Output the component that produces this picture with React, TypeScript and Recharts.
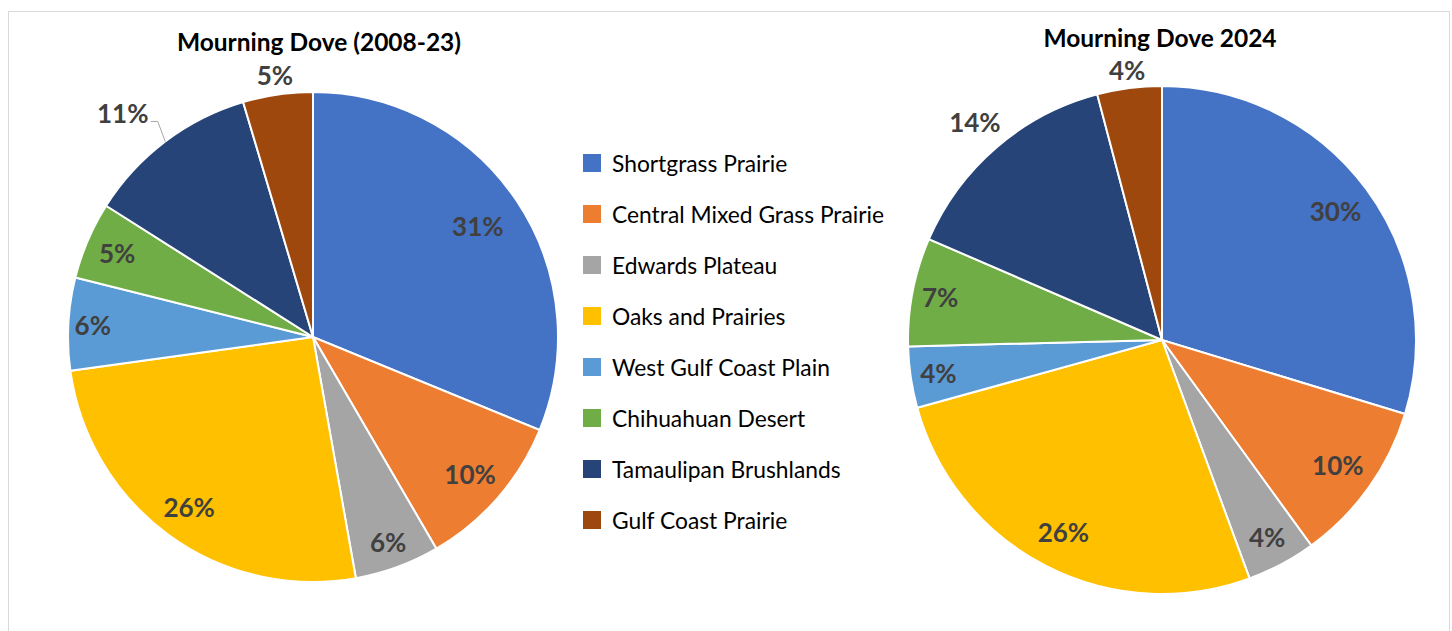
import { PieChart, Pie, Cell } from "recharts";

const regions = [
  "Shortgrass Prairie",
  "Central Mixed Grass Prairie",
  "Edwards Plateau",
  "Oaks and Prairies",
  "West Gulf Coast Plain",
  "Chihuahuan Desert",
  "Tamaulipan Brushlands",
  "Gulf Coast Prairie",
];

const colors = ["#4472C4", "#ED7D31", "#A5A5A5", "#FFC000", "#5B9BD5", "#70AD47", "#264478", "#9E480E"];

// percent of harvest by ecoregion
const share2008to23 = [31.2, 10.4, 5.6, 25.6, 6.1, 5.1, 11.4, 4.6];
const share2024 = [29.7, 10.3, 4.4, 26.3, 3.9, 6.9, 14.4, 4.1];

const FONT = "Lato, 'Open Sans', sans-serif";
const RADIAN = Math.PI / 180;
const NO_MARGIN = { top: 0, right: 0, bottom: 0, left: 0 };

function toRows(values: number[]) {
  return regions.map((name, i) => ({ name, value: values[i] }));
}

function makeLabel(factors: number[], leader?: number) {
  return (props: any) => {
    const { cx, cy, midAngle, outerRadius, index, value } = props;
    const r = outerRadius * factors[index];
    let x = cx + r * Math.cos(-midAngle * RADIAN);
    let y = cy + r * Math.sin(-midAngle * RADIAN);
    if (leader === index) {
      // excel nudged this one sideways and added a leader line
      x -= 13;
      y += 11;
    }
    const txt = (
      <text
        x={x}
        y={y}
        fill="#404040"
        textAnchor="middle"
        dominantBaseline="central"
        fontFamily={FONT}
        fontWeight="bold"
        fontSize={26}
      >
        {Math.round(value)}%
      </text>
    );
    if (leader !== index) return <g key={index}>{txt}</g>;
    const ex = cx + outerRadius * Math.cos(-midAngle * RADIAN);
    const ey = cy + outerRadius * Math.sin(-midAngle * RADIAN);
    return (
      <g key={index}>
        {txt}
        <polyline
          points={`${x + 28},${y + 8} ${x + 35},${y + 8} ${ex},${ey}`}
          fill="none"
          stroke="#A6A6A6"
          strokeWidth={1}
        />
      </g>
    );
  };
}

function Donut({ data, cx, cy, r, factors, leader }: { data: number[]; cx: number; cy: number; r: number; factors: number[]; leader?: number }) {
  return (
    <Pie
      data={toRows(data)}
      dataKey="value"
      nameKey="name"
      cx={cx}
      cy={cy}
      outerRadius={r}
      startAngle={90}
      endAngle={-270}
      stroke="#fff"
      strokeWidth={2}
      label={makeLabel(factors, leader)}
      labelLine={false}
      isAnimationActive={false}
    >
      {colors.map((c, i) => (
        <Cell key={i} fill={c} />
      ))}
    </Pie>
  );
}

export default function App() {
  return (
    <div style={{ position: "absolute", left: 0, top: 0, width: 1452, height: 631, background: "#fff", overflow: "hidden", fontFamily: FONT }}>
      {/* chart frames */}
      <div style={{ position: "absolute", left: 8, top: 11, width: 880, height: 640, border: "1px solid #D9D9D9", borderRight: "none" }} />
      <div style={{ position: "absolute", left: 884, top: 11, width: 565, height: 640, borderTop: "1px solid #D9D9D9", borderRight: "1px solid #D9D9D9" }} />

      <div style={{ position: "absolute", left: 0, top: 0 }}>
        <PieChart width={640} height={631} margin={NO_MARGIN}>
          <Donut data={share2008to23} cx={313} cy={337} r={245} factors={[0.81, 0.85, 0.89, 0.86, 0.9, 0.87, 1.2, 1.08]} leader={6} />
        </PieChart>
      </div>
      <div style={{ position: "absolute", left: 900, top: 0 }}>
        <PieChart width={552} height={631} margin={NO_MARGIN}>
          <Donut data={share2024} cx={262} cy={340} r={254} factors={[0.85, 0.85, 0.88, 0.85, 0.89, 0.89, 1.13, 1.07]} />
        </PieChart>
      </div>

      <div style={{ position: "absolute", left: 119, top: 27, width: 400, textAlign: "center", fontSize: 24.5, fontWeight: "bold", color: "#000" }}>
        Mourning Dove (2008-23)
      </div>
      <div style={{ position: "absolute", left: 960, top: 23, width: 400, textAlign: "center", fontSize: 24.5, fontWeight: "bold", color: "#000" }}>
        Mourning Dove 2024
      </div>

      <div style={{ position: "absolute", left: 583, top: 137 }}>
        {regions.map((name, i) => (
          <div key={name} style={{ display: "flex", alignItems: "center", height: 51, fontSize: 22.8, color: "#000" }}>
            <div style={{ width: 18, height: 18, background: colors[i], marginRight: 11 }} />
            {name}
          </div>
        ))}
      </div>
    </div>
  );
}
